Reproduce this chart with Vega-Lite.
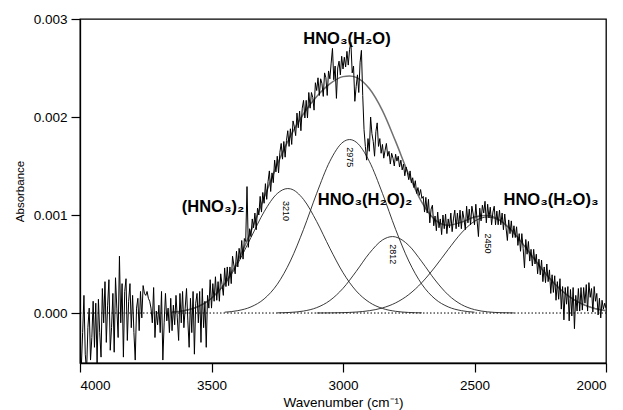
{
  "$schema": "https://vega.github.io/schema/vega-lite/v6.json",
  "width": 526,
  "height": 344,
  "autosize": {"type": "none"},
  "padding": {"left": 80, "top": 19, "right": 17, "bottom": 47},
  "config": {
    "font": "Liberation Sans",
    "view": {"stroke": "#000", "strokeWidth": 1.3},
    "axis": {
      "grid": false,
      "domainColor": "#000",
      "domainWidth": 1.3,
      "tickColor": "#000",
      "tickWidth": 1.2,
      "tickSize": 9,
      "labelFont": "Liberation Sans",
      "titleFont": "Liberation Sans",
      "labelFontSize": 13.5,
      "titleFontSize": 13.5,
      "titleFontWeight": "normal",
      "labelColor": "#000",
      "titleColor": "#000"
    }
  },
  "datasets": {
    "spectrum": [
      {"wn":4000,"A":-0.00038},{"wn":3995,"A":-0.00055},{"wn":3990,"A":-0.0002},{"wn":3985,"A":0.00018},{"wn":3980,"A":-0.00042},
      {"wn":3975,"A":-0.0006},{"wn":3970,"A":-0.00015},{"wn":3965,"A":0.00005},{"wn":3960,"A":-0.00048},{"wn":3955,"A":-0.00025},
      {"wn":3950,"A":0.00012},{"wn":3945,"A":-0.00035},{"wn":3940,"A":0.0001},{"wn":3935,"A":-0.00052},{"wn":3930,"A":0.00014},
      {"wn":3925,"A":-0.0002},{"wn":3920,"A":-0.00045},{"wn":3915,"A":0.00025},{"wn":3910,"A":-0.0001},{"wn":3905,"A":0.00032},
      {"wn":3900,"A":-0.0003},{"wn":3895,"A":0.00008},{"wn":3890,"A":0.00034},{"wn":3885,"A":-0.00038},{"wn":3880,"A":-0.00015},
      {"wn":3875,"A":0.0002},{"wn":3870,"A":-0.0004},{"wn":3865,"A":0.00036},{"wn":3860,"A":0.00005},{"wn":3855,"A":-0.00025},
      {"wn":3850,"A":0.00058},{"wn":3845,"A":-0.0001},{"wn":3840,"A":0.0003},{"wn":3835,"A":-0.00045},{"wn":3830,"A":0.00022},
      {"wn":3825,"A":0.00035},{"wn":3820,"A":-0.00028},{"wn":3815,"A":0.00012},{"wn":3810,"A":0.0003},{"wn":3805,"A":-0.00015},
      {"wn":3800,"A":0.00018},{"wn":3795,"A":-0.0002},{"wn":3790,"A":-0.00048},{"wn":3785,"A":0.00005},{"wn":3780,"A":0.00015},
      {"wn":3775,"A":-0.00018},{"wn":3770,"A":0.00022},{"wn":3765,"A":-0.00005},{"wn":3760,"A":0.00028},{"wn":3755,"A":0.0002},
      {"wn":3750,"A":0.00018},{"wn":3745,"A":0.00022},{"wn":3740,"A":0.00015},{"wn":3735,"A":0.00012},{"wn":3730,"A":0.00005},
      {"wn":3725,"A":-0.0001},{"wn":3720,"A":0.00026},{"wn":3715,"A":-0.00025},{"wn":3710,"A":0.00002},{"wn":3705,"A":-0.00012},
      {"wn":3700,"A":0.00008},{"wn":3695,"A":-0.0002},{"wn":3690,"A":0.00022},{"wn":3685,"A":-0.00048},{"wn":3680,"A":-0.0001},
      {"wn":3675,"A":0.0002},{"wn":3670,"A":-0.00008},{"wn":3665,"A":0.00005},{"wn":3660,"A":-0.0002},{"wn":3655,"A":0.00015},
      {"wn":3650,"A":-0.00018},{"wn":3645,"A":0.00008},{"wn":3640,"A":-0.00012},{"wn":3635,"A":0.00018},{"wn":3630,"A":-0.00005},
      {"wn":3625,"A":-0.00028},{"wn":3620,"A":0.0002},{"wn":3615,"A":-0.0001},{"wn":3610,"A":0.00022},{"wn":3605,"A":-0.00015},
      {"wn":3600,"A":0.00005},{"wn":3595,"A":0.00025},{"wn":3590,"A":-0.00008},{"wn":3585,"A":-0.00035},{"wn":3580,"A":0.00015},
      {"wn":3575,"A":-0.0002},{"wn":3570,"A":0.00022},{"wn":3565,"A":-0.00042},{"wn":3560,"A":0.0001},{"wn":3555,"A":0.0002},
      {"wn":3550,"A":-0.0001},{"wn":3545,"A":0.00022},{"wn":3540,"A":-0.0003},{"wn":3535,"A":0.00025},{"wn":3530,"A":-0.00015},
      {"wn":3525,"A":0.00012},{"wn":3520,"A":-0.00035},{"wn":3515,"A":0.00018},{"wn":3510,"A":0.00005},{"wn":3505,"A":0.00034},
      {"wn":3500,"A":0.00005},{"wn":3495,"A":0.0003},{"wn":3490,"A":0.00012},{"wn":3485,"A":0.00037},{"wn":3480,"A":0.00013},
      {"wn":3475,"A":0.00032},{"wn":3470,"A":0.00012},{"wn":3465,"A":0.0004},{"wn":3460,"A":0.00029},{"wn":3455,"A":0.00018},
      {"wn":3450,"A":0.00046},{"wn":3445,"A":0.00027},{"wn":3440,"A":0.00047},{"wn":3435,"A":0.00028},{"wn":3430,"A":0.00047},
      {"wn":3425,"A":0.0003},{"wn":3420,"A":0.00058},{"wn":3415,"A":0.00049},{"wn":3410,"A":0.0004},{"wn":3405,"A":0.00063},
      {"wn":3400,"A":0.00047},{"wn":3395,"A":0.00066},{"wn":3390,"A":0.00055},{"wn":3385,"A":0.00074},{"wn":3380,"A":0.00055},
      {"wn":3375,"A":0.00076},{"wn":3370,"A":0.00073},{"wn":3365,"A":0.00129},{"wn":3360,"A":0.00067},{"wn":3355,"A":0.00086},
      {"wn":3350,"A":0.00078},{"wn":3345,"A":0.00096},{"wn":3340,"A":0.00087},{"wn":3335,"A":0.00102},{"wn":3330,"A":0.00085},
      {"wn":3325,"A":0.00107},{"wn":3320,"A":0.001},{"wn":3315,"A":0.00119},{"wn":3310,"A":0.00103},{"wn":3305,"A":0.00123},
      {"wn":3300,"A":0.00112},{"wn":3295,"A":0.00132},{"wn":3290,"A":0.00116},{"wn":3285,"A":0.00134},{"wn":3280,"A":0.00145},
      {"wn":3275,"A":0.00124},{"wn":3270,"A":0.00143},{"wn":3265,"A":0.00133},{"wn":3260,"A":0.00156},{"wn":3255,"A":0.00144},
      {"wn":3250,"A":0.0016},{"wn":3245,"A":0.00143},{"wn":3240,"A":0.00164},{"wn":3235,"A":0.00173},{"wn":3230,"A":0.00157},
      {"wn":3225,"A":0.00175},{"wn":3220,"A":0.00159},{"wn":3215,"A":0.00176},{"wn":3210,"A":0.00186},{"wn":3205,"A":0.0017},
      {"wn":3200,"A":0.00188},{"wn":3195,"A":0.00172},{"wn":3190,"A":0.00196},{"wn":3185,"A":0.0019},{"wn":3180,"A":0.00181},
      {"wn":3175,"A":0.00204},{"wn":3170,"A":0.00189},{"wn":3165,"A":0.00206},{"wn":3160,"A":0.00186},{"wn":3155,"A":0.00209},
      {"wn":3150,"A":0.00217},{"wn":3145,"A":0.00199},{"wn":3140,"A":0.00217},{"wn":3135,"A":0.00199},{"wn":3130,"A":0.00225},
      {"wn":3125,"A":0.00209},{"wn":3120,"A":0.00225},{"wn":3115,"A":0.0022},{"wn":3110,"A":0.00207},{"wn":3105,"A":0.00235},
      {"wn":3100,"A":0.00227},{"wn":3095,"A":0.0024},{"wn":3090,"A":0.00222},{"wn":3085,"A":0.00239},{"wn":3080,"A":0.00234},
      {"wn":3075,"A":0.00221},{"wn":3070,"A":0.00245},{"wn":3065,"A":0.0024},{"wn":3060,"A":0.00222},{"wn":3055,"A":0.00247},
      {"wn":3050,"A":0.00239},{"wn":3045,"A":0.00255},{"wn":3040,"A":0.0027},{"wn":3035,"A":0.00238},{"wn":3030,"A":0.00252},
      {"wn":3025,"A":0.00219},{"wn":3020,"A":0.0025},{"wn":3015,"A":0.00257},{"wn":3010,"A":0.00243},{"wn":3005,"A":0.00262},
      {"wn":3000,"A":0.00249},{"wn":2995,"A":0.00261},{"wn":2990,"A":0.00251},{"wn":2985,"A":0.00267},{"wn":2980,"A":0.00253},
      {"wn":2975,"A":0.00269},{"wn":2970,"A":0.00276},{"wn":2965,"A":0.00245},{"wn":2960,"A":0.00252},{"wn":2955,"A":0.00216},
      {"wn":2950,"A":0.00231},{"wn":2945,"A":0.00243},{"wn":2940,"A":0.00225},{"wn":2935,"A":0.00256},{"wn":2930,"A":0.00268},
      {"wn":2925,"A":0.00222},{"wn":2920,"A":0.00187},{"wn":2915,"A":0.0017},{"wn":2910,"A":0.00156},{"wn":2905,"A":0.00178},
      {"wn":2900,"A":0.00165},{"wn":2895,"A":0.002},{"wn":2890,"A":0.00183},{"wn":2885,"A":0.00175},{"wn":2880,"A":0.0016},
      {"wn":2875,"A":0.00185},{"wn":2870,"A":0.00194},{"wn":2865,"A":0.0017},{"wn":2860,"A":0.00178},{"wn":2855,"A":0.00163},
      {"wn":2850,"A":0.00172},{"wn":2845,"A":0.00158},{"wn":2840,"A":0.00166},{"wn":2835,"A":0.00173},{"wn":2830,"A":0.0016},
      {"wn":2825,"A":0.00165},{"wn":2820,"A":0.00152},{"wn":2815,"A":0.00163},{"wn":2810,"A":0.00158},{"wn":2805,"A":0.0015},
      {"wn":2800,"A":0.00162},{"wn":2795,"A":0.00155},{"wn":2790,"A":0.0016},{"wn":2785,"A":0.00149},{"wn":2780,"A":0.00156},
      {"wn":2775,"A":0.00146},{"wn":2770,"A":0.00152},{"wn":2765,"A":0.0014},{"wn":2760,"A":0.00149},{"wn":2755,"A":0.00143},
      {"wn":2750,"A":0.00136},{"wn":2745,"A":0.00145},{"wn":2740,"A":0.00133},{"wn":2735,"A":0.00138},{"wn":2730,"A":0.00128},
      {"wn":2725,"A":0.00135},{"wn":2720,"A":0.00122},{"wn":2715,"A":0.00128},{"wn":2710,"A":0.0012},{"wn":2705,"A":0.00126},
      {"wn":2700,"A":0.00117},{"wn":2695,"A":0.00119},{"wn":2690,"A":0.00103},{"wn":2685,"A":0.00118},{"wn":2680,"A":0.00102},
      {"wn":2675,"A":0.00116},{"wn":2670,"A":0.00092},{"wn":2665,"A":0.00106},{"wn":2660,"A":0.0011},{"wn":2655,"A":0.00089},
      {"wn":2650,"A":0.00099},{"wn":2645,"A":0.00084},{"wn":2640,"A":0.00103},{"wn":2635,"A":0.00087},{"wn":2630,"A":0.00096},
      {"wn":2625,"A":0.0008},{"wn":2620,"A":0.001},{"wn":2615,"A":0.00086},{"wn":2610,"A":0.00101},{"wn":2605,"A":0.00081},
      {"wn":2600,"A":0.00096},{"wn":2595,"A":0.00087},{"wn":2590,"A":0.00102},{"wn":2585,"A":0.00083},{"wn":2580,"A":0.00096},
      {"wn":2575,"A":0.00105},{"wn":2570,"A":0.00086},{"wn":2565,"A":0.00102},{"wn":2560,"A":0.00088},{"wn":2555,"A":0.00105},
      {"wn":2550,"A":0.00086},{"wn":2545,"A":0.00104},{"wn":2540,"A":0.00096},{"wn":2535,"A":0.00085},{"wn":2530,"A":0.00109},
      {"wn":2525,"A":0.00092},{"wn":2520,"A":0.00106},{"wn":2515,"A":0.0009},{"wn":2510,"A":0.00109},{"wn":2505,"A":0.00101},
      {"wn":2500,"A":0.0009},{"wn":2495,"A":0.00111},{"wn":2490,"A":0.00094},{"wn":2485,"A":0.00078},{"wn":2480,"A":0.00107},
      {"wn":2475,"A":0.00094},{"wn":2470,"A":0.0011},{"wn":2465,"A":0.00102},{"wn":2460,"A":0.00114},{"wn":2455,"A":0.00092},
      {"wn":2450,"A":0.00111},{"wn":2445,"A":0.00097},{"wn":2440,"A":0.00108},{"wn":2435,"A":0.0009},{"wn":2430,"A":0.00103},
      {"wn":2425,"A":0.00109},{"wn":2420,"A":0.0009},{"wn":2415,"A":0.00104},{"wn":2410,"A":0.0009},{"wn":2405,"A":0.00105},
      {"wn":2400,"A":0.0009},{"wn":2395,"A":0.00102},{"wn":2390,"A":0.00085},{"wn":2385,"A":0.00101},{"wn":2380,"A":0.00087},
      {"wn":2375,"A":0.00074},{"wn":2370,"A":0.00095},{"wn":2365,"A":0.00081},{"wn":2360,"A":0.00094},{"wn":2355,"A":0.00077},
      {"wn":2350,"A":0.00089},{"wn":2345,"A":0.00077},{"wn":2340,"A":0.00088},{"wn":2335,"A":0.00069},{"wn":2330,"A":0.00081},
      {"wn":2325,"A":0.00063},{"wn":2320,"A":0.00081},{"wn":2315,"A":0.00066},{"wn":2310,"A":0.00046},{"wn":2305,"A":0.00075},
      {"wn":2300,"A":0.0006},{"wn":2295,"A":0.00073},{"wn":2290,"A":0.00053},{"wn":2285,"A":0.00065},{"wn":2280,"A":0.00048},
      {"wn":2275,"A":0.00065},{"wn":2270,"A":0.0005},{"wn":2265,"A":0.0006},{"wn":2260,"A":0.0004},{"wn":2255,"A":0.00055},
      {"wn":2250,"A":0.00039},{"wn":2245,"A":0.00054},{"wn":2240,"A":0.00032},{"wn":2235,"A":0.00047},{"wn":2230,"A":0.00031},
      {"wn":2225,"A":0.0005},{"wn":2220,"A":0.00032},{"wn":2215,"A":0.00044},{"wn":2210,"A":0.0002},{"wn":2205,"A":0.00039},
      {"wn":2200,"A":0.00021},{"wn":2195,"A":0.00038},{"wn":2190,"A":0.00013},{"wn":2185,"A":0.00032},{"wn":2180,"A":0.00014},
      {"wn":2175,"A":0.00035},{"wn":2170,"A":0.00004},{"wn":2165,"A":0.00027},{"wn":2160,"A":-0.00007},{"wn":2155,"A":0.00026},
      {"wn":2150,"A":0.00009},{"wn":2145,"A":0.00027},{"wn":2140,"A":-0.00008},{"wn":2135,"A":0.00024},{"wn":2130,"A":-0.00003},
      {"wn":2125,"A":0.00026},{"wn":2120,"A":-0.00016},{"wn":2115,"A":0.00018},{"wn":2110,"A":0.00002},{"wn":2105,"A":0.00025},
      {"wn":2100,"A":0.00002},{"wn":2095,"A":0.00026},{"wn":2090,"A":0.00003},{"wn":2085,"A":0.00026},{"wn":2080,"A":0.0001},
      {"wn":2075,"A":0.00029},{"wn":2070,"A":0.00002},{"wn":2065,"A":0.00031},{"wn":2060,"A":0.00016},{"wn":2055,"A":0.00025},
      {"wn":2050,"A":0.00001},{"wn":2045,"A":0.00027},{"wn":2040,"A":0.00012},{"wn":2035,"A":0.0002},{"wn":2030,"A":-0.00002},
      {"wn":2025,"A":0.00015},{"wn":2020,"A":-0.00005},{"wn":2015,"A":0.00013},{"wn":2010,"A":0.00004},{"wn":2005,"A":0.0001},
      {"wn":2000,"A":0.00005}
    ],
    "fit": [
      {"comp":"3210","wn":3650,"A":0.0000091},{"comp":"3210","wn":3600,"A":0.0000262},{"comp":"3210","wn":3550,"A":0.0000665},
      {"comp":"3210","wn":3500,"A":0.0001486},{"comp":"3210","wn":3450,"A":0.000292},{"comp":"3210","wn":3400,"A":0.000506},
      {"comp":"3210","wn":3350,"A":0.00077},{"comp":"3210","wn":3300,"A":0.001033},{"comp":"3210","wn":3250,"A":0.001219},
      {"comp":"3210","wn":3210,"A":0.00127},{"comp":"3210","wn":3200,"A":0.001267},{"comp":"3210","wn":3150,"A":0.001159},
      {"comp":"3210","wn":3100,"A":0.000933},{"comp":"3210","wn":3050,"A":0.000661},{"comp":"3210","wn":3000,"A":0.000412},
      {"comp":"3210","wn":2950,"A":0.000226},{"comp":"3210","wn":2900,"A":0.0001094},{"comp":"3210","wn":2850,"A":0.0000466},
      {"comp":"3210","wn":2800,"A":0.0000174},{"comp":"3210","wn":2750,"A":0.0000057},{"comp":"3210","wn":2700,"A":0.0000017},
      {"comp":"2975","wn":3450,"A":0.0000083},{"comp":"2975","wn":3400,"A":0.0000241},{"comp":"2975","wn":3350,"A":0.0000625},
      {"comp":"2975","wn":3300,"A":0.0001436},{"comp":"2975","wn":3250,"A":0.000293},{"comp":"2975","wn":3200,"A":0.000531},
      {"comp":"2975","wn":3150,"A":0.000854},{"comp":"2975","wn":3100,"A":0.001221},{"comp":"2975","wn":3050,"A":0.001548},
      {"comp":"2975","wn":3000,"A":0.001744},{"comp":"2975","wn":2975,"A":0.00177},{"comp":"2975","wn":2950,"A":0.001744},
      {"comp":"2975","wn":2900,"A":0.001548},{"comp":"2975","wn":2850,"A":0.001221},{"comp":"2975","wn":2800,"A":0.000854},
      {"comp":"2975","wn":2750,"A":0.000531},{"comp":"2975","wn":2700,"A":0.000293},{"comp":"2975","wn":2650,"A":0.0001436},
      {"comp":"2975","wn":2600,"A":0.0000625},{"comp":"2975","wn":2550,"A":0.0000241},{"comp":"2975","wn":2500,"A":0.0000083},
      {"comp":"2812","wn":3250,"A":0.0000017},{"comp":"2812","wn":3200,"A":0.0000063},{"comp":"2812","wn":3150,"A":0.0000201},
      {"comp":"2812","wn":3100,"A":0.0000549},{"comp":"2812","wn":3050,"A":0.0001273},{"comp":"2812","wn":3000,"A":0.0002517},
      {"comp":"2812","wn":2950,"A":0.000424},{"comp":"2812","wn":2900,"A":0.000609},{"comp":"2812","wn":2850,"A":0.000745},
      {"comp":"2812","wn":2812,"A":0.00078},{"comp":"2812","wn":2800,"A":0.000776},{"comp":"2812","wn":2750,"A":0.00069},
      {"comp":"2812","wn":2700,"A":0.000522},{"comp":"2812","wn":2650,"A":0.000337},{"comp":"2812","wn":2600,"A":0.000185},
      {"comp":"2812","wn":2550,"A":0.0000867},{"comp":"2812","wn":2500,"A":0.0000346},{"comp":"2812","wn":2450,"A":0.0000118},
      {"comp":"2812","wn":2400,"A":0.0000034},{"comp":"2812","wn":2350,"A":0.0000008},
      {"comp":"2450","wn":3100,"A":0.0000004},{"comp":"2450","wn":3050,"A":0.0000013},{"comp":"2450","wn":3000,"A":0.0000038},
      {"comp":"2450","wn":2950,"A":0.0000099},{"comp":"2450","wn":2900,"A":0.0000238},{"comp":"2450","wn":2850,"A":0.0000519},
      {"comp":"2450","wn":2800,"A":0.0001033},{"comp":"2450","wn":2750,"A":0.0001877},{"comp":"2450","wn":2700,"A":0.000311},
      {"comp":"2450","wn":2650,"A":0.00047},{"comp":"2450","wn":2600,"A":0.000648},{"comp":"2450","wn":2550,"A":0.000816},
      {"comp":"2450","wn":2500,"A":0.000936},{"comp":"2450","wn":2450,"A":0.00098},{"comp":"2450","wn":2400,"A":0.000936},
      {"comp":"2450","wn":2350,"A":0.000816},{"comp":"2450","wn":2300,"A":0.000648},{"comp":"2450","wn":2250,"A":0.00047},
      {"comp":"2450","wn":2200,"A":0.000311},{"comp":"2450","wn":2150,"A":0.0001877},{"comp":"2450","wn":2100,"A":0.0001033},
      {"comp":"2450","wn":2050,"A":0.0000519},{"comp":"2450","wn":2000,"A":0.0000238},
      {"comp":"sum","wn":3650,"A":0.0000091},{"comp":"sum","wn":3600,"A":0.0000262},{"comp":"sum","wn":3550,"A":0.0000665},
      {"comp":"sum","wn":3500,"A":0.000151},{"comp":"sum","wn":3450,"A":0.0003},{"comp":"sum","wn":3400,"A":0.00053},
      {"comp":"sum","wn":3350,"A":0.000833},{"comp":"sum","wn":3300,"A":0.001177},{"comp":"sum","wn":3250,"A":0.001514},
      {"comp":"sum","wn":3200,"A":0.001804},{"comp":"sum","wn":3150,"A":0.002033},{"comp":"sum","wn":3100,"A":0.002209},
      {"comp":"sum","wn":3050,"A":0.002338},{"comp":"sum","wn":3000,"A":0.002412},{"comp":"sum","wn":2975,"A":0.002419},
      {"comp":"sum","wn":2950,"A":0.002404},{"comp":"sum","wn":2900,"A":0.00229},{"comp":"sum","wn":2850,"A":0.002065},
      {"comp":"sum","wn":2800,"A":0.001751},{"comp":"sum","wn":2750,"A":0.001414},{"comp":"sum","wn":2700,"A":0.001128},
      {"comp":"sum","wn":2650,"A":0.000951},{"comp":"sum","wn":2600,"A":0.000896},{"comp":"sum","wn":2550,"A":0.000927},
      {"comp":"sum","wn":2500,"A":0.000979},{"comp":"sum","wn":2450,"A":0.000994},{"comp":"sum","wn":2400,"A":0.000939},
      {"comp":"sum","wn":2350,"A":0.000817},{"comp":"sum","wn":2300,"A":0.000648},{"comp":"sum","wn":2250,"A":0.00047},
      {"comp":"sum","wn":2200,"A":0.000311},{"comp":"sum","wn":2150,"A":0.000188},{"comp":"sum","wn":2100,"A":0.000103},
      {"comp":"sum","wn":2050,"A":0.000052},{"comp":"sum","wn":2000,"A":0.000024}
    ],
    "baseline": [{"wn":4000,"A":0},{"wn":2000,"A":0}],
    "species": [
      {"wn":2985,"A":0.0028,"label":"HNO₃(H₂O)"},
      {"wn":3494,"A":0.00108,"label":"(HNO₃)₂"},
      {"wn":2916,"A":0.00115,"label":"HNO₃(H₂O)₂"},
      {"wn":2209,"A":0.00115,"label":"HNO₃(H₂O)₃"}
    ],
    "peaks": [
      {"wn":3216,"A":0.00104,"label":"3210"},
      {"wn":2973,"A":0.00159,"label":"2975"},
      {"wn":2810,"A":0.0006,"label":"2812"},
      {"wn":2449,"A":0.00071,"label":"2450"}
    ]
  },
  "encoding": {
    "x": {
      "field": "wn",
      "type": "quantitative",
      "scale": {"domain": [2000, 4000], "reverse": true, "nice": false, "zero": false},
      "axis": {"values": [2000, 2500, 3000, 3500, 4000], "format": "d", "title": "Wavenumber (cm⁻¹)", "labelPadding": 6, "titlePadding": 4}
    },
    "y": {
      "field": "A",
      "type": "quantitative",
      "scale": {"domain": [-0.00051, 0.003], "nice": false, "zero": false},
      "axis": {"values": [0, 0.001, 0.002, 0.003], "format": ".3f", "title": "Absorbance", "titleFontSize": 11.5, "labelPadding": 4, "titlePadding": 8}
    }
  },
  "layer": [
    {
      "data": {"name": "baseline"},
      "mark": {"type": "line", "color": "#000", "strokeWidth": 1, "strokeDash": [1.5, 2]}
    },
    {
      "data": {"name": "fit"},
      "transform": [{"filter": "datum.comp !== 'sum'"}],
      "mark": {"type": "line", "color": "#222", "strokeWidth": 0.9, "interpolate": "monotone", "clip": true},
      "encoding": {"detail": {"field": "comp", "type": "nominal"}}
    },
    {
      "data": {"name": "fit"},
      "transform": [{"filter": "datum.comp === 'sum'"}],
      "mark": {"type": "line", "color": "#707070", "strokeWidth": 1.5, "interpolate": "monotone", "clip": true}
    },
    {
      "data": {"name": "spectrum"},
      "mark": {"type": "line", "color": "#000", "strokeWidth": 1, "clip": true}
    },
    {
      "data": {"name": "species"},
      "mark": {"type": "text", "font": "Liberation Sans", "fontWeight": "bold", "fontSize": 16.5, "color": "#000", "align": "center", "baseline": "middle"},
      "encoding": {"text": {"field": "label"}}
    },
    {
      "data": {"name": "peaks"},
      "mark": {"type": "text", "font": "Liberation Sans", "fontSize": 9, "angle": 90, "color": "#000", "align": "center", "baseline": "middle"},
      "encoding": {"text": {"field": "label"}}
    }
  ]
}
